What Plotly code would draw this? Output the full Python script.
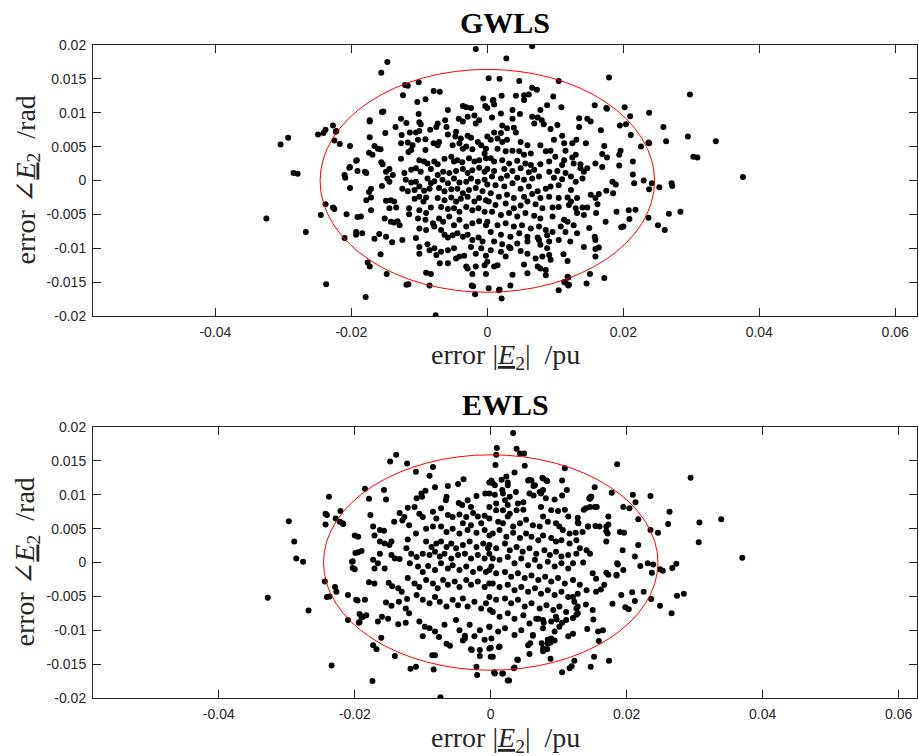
import plotly.graph_objects as go

# ---------------- data ----------------
x_tick_vals = [-0.04, -0.02, 0, 0.02, 0.04, 0.06]
x_tick_text = ["-0.04", "-0.02", "0", "0.02", "0.04", "0.06"]
y_tick_vals = [-0.02, -0.015, -0.01, -0.005, 0, 0.005, 0.01, 0.015, 0.02]
y_tick_text = ["-0.02", "-0.015", "-0.01", "-0.005", "0", "0.005", "0.01", "0.015", "0.02"]

panel_titles = ["GWLS", "EWLS"]

# confidence ellipse bounds: (x_min, x_max, y_min, y_max)
gwls_ellipse = (-0.0246, 0.0246, -0.0165, 0.0164)
ewls_ellipse = (-0.0246, 0.0246, -0.0159, 0.0159)

# (error |E2| in pu, error angle E2 in rad)
gwls_points = [
(-0.0017,0.0194),(-0.0147,0.0175),(-0.0156,0.0159),(-0.0121,0.0141),(-0.0117,0.0140),(-0.0101,0.0145),(-0.0079,0.0132),(-0.0070,0.0131),(-0.0124,0.0126),(-0.0091,0.0120),(-0.0103,0.0116),(-0.0036,0.0110),(-0.0031,0.0108),(-0.0024,0.0107),(-0.0003,0.0110),(-0.0006,0.0121),(-0.0058,0.0104),(-0.0155,0.0101),(-0.0153,0.0102),(-0.0101,0.0098),
(-0.0173,0.0089),(-0.0173,0.0087),(-0.0127,0.0091),(-0.0119,0.0085),(-0.0135,0.0079),(-0.0100,0.0086),(-0.0098,0.0083),(-0.0073,0.0084),(-0.0075,0.0079),(-0.0062,0.0089),(-0.0060,0.0079),(-0.0042,0.0091),(-0.0036,0.0087),(-0.0029,0.0094),(-0.0019,0.0096),(-0.0012,0.0089),(-0.0017,0.0084),
(-0.0227,0.0081),(-0.0238,0.0075),(-0.0241,0.0070),(-0.0223,0.0072),(-0.0150,0.0070),(-0.0126,0.0067),(-0.0114,0.0071),(-0.0105,0.0071),(-0.0100,0.0073),(-0.0084,0.0075),(-0.0173,0.0064),(-0.0225,0.0059),(-0.0217,0.0054),
(-0.0058,0.0068),(-0.0046,0.0072),(-0.0047,0.0065),(-0.0039,0.0062),(-0.0029,0.0066),(-0.0024,0.0063),(-0.0014,0.0057),(-0.0127,0.0055),(-0.0117,0.0056),(-0.0110,0.0052),(-0.0102,0.0060),(-0.0091,0.0061),(-0.0079,0.0055),(-0.0073,0.0052),(-0.0071,0.0057),
(-0.0202,0.0051),(-0.0166,0.0051),(-0.0161,0.0047),(-0.0157,0.0046),(-0.0116,0.0042),(-0.0112,0.0045),(-0.0091,0.0045),(-0.0051,0.0052),(-0.0041,0.0055),(-0.0036,0.0047),(-0.0031,0.0050),(-0.0022,0.0046),(-0.0009,0.0052),(-0.0002,0.0047),(-0.0004,0.0040),(-0.0174,0.0041),
(-0.0192,0.0030),(-0.0127,0.0032),(-0.0156,0.0027),(-0.0154,0.0024),(-0.0169,0.0038),(-0.0100,0.0030),(-0.0093,0.0028),(-0.0088,0.0025),(-0.0078,0.0028),(-0.0073,0.0024),(-0.0063,0.0032),(-0.0053,0.0035),(-0.0049,0.0028),(-0.0044,0.0030),(-0.0037,0.0027),(-0.0027,0.0033),(-0.0019,0.0028),(-0.0012,0.0030),(-0.0002,0.0033),
(-0.0203,0.0019),(-0.0191,0.0014),(-0.0178,0.0011),(-0.0149,0.0013),(-0.0144,0.0017),(-0.0139,0.0008),(-0.0122,0.0011),(-0.0112,0.0016),(-0.0105,0.0018),(-0.0098,0.0013),(-0.0083,0.0017),(-0.0073,0.0008),(-0.0065,0.0013),(-0.0056,0.0011),(-0.0046,0.0014),(-0.0036,0.0017),(-0.0029,0.0011),(-0.0022,0.0015),(-0.0012,0.0019),(-0.0004,0.0013),
(-0.0209,0.0004),(-0.0147,0.0003),(-0.0144,-0.0002),(-0.0120,0.0001),(-0.0112,-0.0003),(-0.0105,-0.0002),(-0.0088,0.0003),(-0.0083,-0.0004),(-0.0078,-0.0001),(-0.0066,0.0001),(-0.0058,-0.0004),(-0.0049,0.0003),(-0.0041,-0.0003),(-0.0031,-0.0002),(-0.0024,0.0003),(-0.0014,-0.0002),(-0.0004,0.0001),
(-0.0202,-0.0011),(-0.0171,-0.0012),(-0.0155,-0.0008),(-0.0125,-0.0012),(-0.0117,-0.0016),(-0.0107,-0.0014),(-0.0100,-0.0009),(-0.0093,-0.0015),(-0.0085,-0.0012),(-0.0071,-0.0011),(-0.0063,-0.0016),(-0.0053,-0.0013),(-0.0044,-0.0012),(-0.0036,-0.0019),(-0.0027,-0.0014),(-0.0017,-0.0011),(-0.0007,-0.0016),
(-0.0174,-0.0017),(-0.0171,-0.0025),(-0.0178,-0.0029),(-0.0149,-0.0030),(-0.0142,-0.0029),(-0.0137,-0.0031),(-0.0107,-0.0027),(-0.0100,-0.0024),(-0.0094,-0.0031),(-0.0090,-0.0025),(-0.0073,-0.0026),(-0.0063,-0.0029),(-0.0053,-0.0025),(-0.0046,-0.0031),(-0.0039,-0.0027),(-0.0029,-0.0024),(-0.0019,-0.0031),(-0.0012,-0.0026),(-0.0002,-0.0029),
(-0.0238,-0.0035),(-0.0227,-0.0040),(-0.0225,-0.0042),(-0.0245,-0.0051),(-0.0171,-0.0044),(-0.0144,-0.0041),(-0.0134,-0.0040),(-0.0115,-0.0041),(-0.0100,-0.0044),(-0.0090,-0.0048),(-0.0083,-0.0040),(-0.0068,-0.0039),(-0.0058,-0.0042),(-0.0049,-0.0041),(-0.0041,-0.0046),(-0.0031,-0.0039),(-0.0022,-0.0044),(-0.0013,-0.0041),(-0.0004,-0.0046),
(-0.0207,-0.0050),(-0.0191,-0.0054),(-0.0186,-0.0053),(-0.0151,-0.0056),(-0.0142,-0.0061),(-0.0137,-0.0062),(-0.0132,-0.0060),(-0.0129,-0.0066),(-0.0115,-0.0050),(-0.0102,-0.0056),(-0.0091,-0.0058),(-0.0080,-0.0063),(-0.0071,-0.0056),(-0.0065,-0.0061),(-0.0056,-0.0053),(-0.0049,-0.0066),(-0.0041,-0.0058),(-0.0031,-0.0068),(-0.0022,-0.0063),(-0.0012,-0.0060),(-0.0002,-0.0066),
(-0.0193,-0.0076),(-0.0193,-0.0080),(-0.0184,-0.0078),(-0.0159,-0.0079),(-0.0166,-0.0086),(-0.0149,-0.0083),(-0.0140,-0.0091),(-0.0125,-0.0088),(-0.0105,-0.0085),(-0.0100,-0.0071),(-0.0090,-0.0073),(-0.0078,-0.0068),(-0.0068,-0.0073),(-0.0063,-0.0080),(-0.0058,-0.0084),(-0.0051,-0.0081),(-0.0044,-0.0078),(-0.0036,-0.0083),(-0.0029,-0.0080),(-0.0022,-0.0088),(-0.0013,-0.0084),(-0.0007,-0.0090),
(-0.0210,-0.0085),(-0.0100,-0.0098),(-0.0100,-0.0108),(-0.0088,-0.0094),(-0.0085,-0.0103),(-0.0075,-0.0110),(-0.0078,-0.0100),(-0.0068,-0.0105),(-0.0058,-0.0103),(-0.0049,-0.0100),(-0.0041,-0.0112),(-0.0034,-0.0111),(-0.0024,-0.0098),(-0.0017,-0.0108),(-0.0009,-0.0100),(-0.0002,-0.0111),
(-0.0157,-0.0109),(-0.0176,-0.0121),(-0.0173,-0.0127),(-0.0070,-0.0122),(-0.0058,-0.0122),(-0.0046,-0.0115),(-0.0031,-0.0127),(-0.0029,-0.0130),(-0.0017,-0.0127),(-0.0004,-0.0125),(-0.0090,-0.0136),(-0.0083,-0.0138),(-0.0022,-0.0138),(-0.0002,-0.0138),(-0.0148,-0.0138),
(-0.0237,-0.0153),(-0.0119,-0.0154),(-0.0116,-0.0153),(-0.0085,-0.0155),(-0.0023,-0.0155),(-0.0179,-0.0172),(-0.0018,-0.0168),(-0.0076,-0.0199),
(-0.0304,0.0053),(-0.0293,0.0063),(-0.0249,0.0068),(-0.0222,0.0073),(-0.0285,0.0011),(-0.0279,0.0010),(-0.0325,-0.0056),(-0.0267,-0.0076),(-0.0210,0.0008),(-0.0202,0.0020),(-0.0193,0.0029),(-0.0180,0.0013),
(0.0066,0.0198),(0.0028,0.0180),(0.0002,0.0151),(0.0018,0.0150),(0.0047,0.0147),(0.0105,0.0147),(0.0179,0.0152),
(0.0066,0.0137),(0.0073,0.0134),(0.0061,0.0127),(0.0054,0.0126),(0.0054,0.0119),(0.0021,0.0125),(0.0042,0.0125),(0.0009,0.0119),(0.0010,0.0112),(0.0097,0.0124),(0.0008,0.0118),
(0.0000,0.0107),(0.0020,0.0099),(0.0037,0.0104),(0.0048,0.0098),(0.0078,0.0104),(0.0088,0.0111),(0.0109,0.0108),(0.0158,0.0111),(0.0175,0.0107),(0.0202,0.0108),(0.0238,0.0100),(0.0210,0.0095),
(0.0007,0.0093),(0.0037,0.0091),(0.0066,0.0094),(0.0074,0.0093),(0.0080,0.0089),(0.0069,0.0084),(0.0083,0.0083),(0.0103,0.0082),(0.0135,0.0092),(0.0147,0.0091),(0.0152,0.0087),(0.0135,0.0079),(0.0195,0.0081),(0.0204,0.0083),
(0.0022,0.0081),(0.0029,0.0077),(0.0039,0.0078),(0.0010,0.0071),(0.0020,0.0070),(0.0042,0.0071),(0.0093,0.0076),(0.0110,0.0066),(0.0167,0.0074),(0.0211,0.0067),
(0.0000,0.0065),(0.0005,0.0060),(0.0015,0.0062),(0.0022,0.0057),(0.0029,0.0060),(0.0049,0.0057),(0.0059,0.0052),(0.0078,0.0052),(0.0098,0.0060),(0.0113,0.0055),(0.0125,0.0055),(0.0131,0.0060),(0.0145,0.0055),(0.0172,0.0051),(0.0196,0.0044),(0.0226,0.0050),(0.0238,0.0055),
(0.0015,0.0047),(0.0027,0.0043),(0.0037,0.0044),(0.0047,0.0043),(0.0054,0.0038),(0.0064,0.0040),(0.0086,0.0043),(0.0093,0.0044),(0.0115,0.0044),(0.0100,0.0035),(0.0113,0.0030),(0.0125,0.0034),(0.0130,0.0038),(0.0169,0.0039),(0.0176,0.0034),
(0.0005,0.0033),(0.0010,0.0028),(0.0022,0.0030),(0.0032,0.0025),(0.0044,0.0029),(0.0056,0.0025),(0.0064,0.0023),(0.0078,0.0024),(0.0091,0.0028),(0.0110,0.0023),(0.0127,0.0025),(0.0137,0.0024),(0.0147,0.0018),(0.0159,0.0025),(0.0169,0.0020),(0.0194,0.0022),(0.0214,0.0028),
(0.0000,0.0017),(0.0010,0.0014),(0.0025,0.0017),(0.0037,0.0014),(0.0049,0.0018),(0.0061,0.0012),(0.0069,0.0016),(0.0091,0.0013),(0.0103,0.0014),(0.0115,0.0011),(0.0137,0.0018),(0.0142,0.0013),
(0.0007,0.0006),(0.0020,0.0003),(0.0029,0.0007),(0.0044,0.0004),(0.0054,0.0001),(0.0066,0.0003),(0.0076,0.0006),(0.0098,0.0004),(0.0110,0.0002),(0.0123,0.0006),(0.0130,-0.0002),(0.0140,0.0003),(0.0184,-0.0002),(0.0189,-0.0006),(0.0214,0.0009),(0.0230,0.0000),(0.0242,-0.0004),
(0.0000,-0.0006),(0.0012,-0.0007),(0.0025,-0.0009),(0.0037,-0.0004),(0.0049,-0.0012),(0.0061,-0.0009),(0.0074,-0.0016),(0.0086,-0.0012),(0.0093,-0.0009),(0.0105,-0.0007),(0.0123,-0.0014),(0.0152,-0.0021),(0.0164,-0.0020),(0.0175,-0.0015),(0.0185,-0.0019),(0.0216,-0.0004),(0.0238,-0.0013),
(0.0005,-0.0019),(0.0017,-0.0024),(0.0029,-0.0021),(0.0039,-0.0026),(0.0054,-0.0024),(0.0066,-0.0020),(0.0078,-0.0026),(0.0091,-0.0024),(0.0105,-0.0026),(0.0118,-0.0025),(0.0123,-0.0031),(0.0132,-0.0026),(0.0159,-0.0026),
(0.0002,-0.0031),(0.0012,-0.0036),(0.0027,-0.0034),(0.0039,-0.0041),(0.0049,-0.0037),(0.0059,-0.0031),(0.0071,-0.0035),(0.0081,-0.0041),(0.0096,-0.0040),(0.0105,-0.0039),(0.0120,-0.0036),(0.0130,-0.0041),(0.0140,-0.0040),(0.0147,-0.0040),(0.0162,-0.0035),
(0.0007,-0.0046),(0.0020,-0.0051),(0.0032,-0.0048),(0.0044,-0.0053),(0.0056,-0.0048),(0.0069,-0.0052),(0.0078,-0.0056),(0.0096,-0.0053),(0.0113,-0.0058),(0.0118,-0.0061),(0.0132,-0.0048),(0.0142,-0.0051),(0.0160,-0.0048),(0.0174,-0.0061),(0.0190,-0.0046),(0.0208,-0.0044),
(0.0000,-0.0061),(0.0015,-0.0066),(0.0027,-0.0063),(0.0039,-0.0068),(0.0051,-0.0066),(0.0064,-0.0071),(0.0076,-0.0068),(0.0086,-0.0073),(0.0096,-0.0076),(0.0108,-0.0068),(0.0127,-0.0066),(0.0150,-0.0070),
(0.0005,-0.0076),(0.0020,-0.0080),(0.0034,-0.0083),(0.0047,-0.0078),(0.0059,-0.0083),(0.0074,-0.0084),(0.0088,-0.0081),(0.0115,-0.0076),(0.0132,-0.0078),
(0.0010,-0.0090),(0.0022,-0.0094),(0.0032,-0.0098),(0.0044,-0.0093),(0.0059,-0.0090),(0.0076,-0.0088),(0.0091,-0.0090),(0.0105,-0.0088),(0.0122,-0.0090),(0.0158,-0.0083),(0.0159,-0.0088),
(0.0005,-0.0103),(0.0020,-0.0105),(0.0034,-0.0100),(0.0049,-0.0104),(0.0078,-0.0095),(0.0088,-0.0100),(0.0091,-0.0110),(0.0112,-0.0109),(0.0142,-0.0098),(0.0159,-0.0101),(0.0164,-0.0099),
(0.0027,-0.0112),(0.0059,-0.0108),(0.0071,-0.0115),(0.0081,-0.0112),(0.0093,-0.0117),(0.0118,-0.0119),(0.0159,-0.0112),
(0.0000,-0.0120),(0.0015,-0.0125),(0.0054,-0.0124),(0.0074,-0.0127),(0.0078,-0.0130),(0.0086,-0.0132),(0.0010,-0.0127),
(0.0037,-0.0139),(0.0059,-0.0137),(0.0086,-0.0140),(0.0118,-0.0142),(0.0151,-0.0138),(0.0172,-0.0144),
(0.0034,-0.0155),(0.0113,-0.0150),(0.0119,-0.0155),(0.0146,-0.0152),(0.0105,-0.0162),(0.0002,-0.0159),(0.0017,-0.0162),(0.0021,-0.0174),
(0.0298,0.0127),(0.0259,0.0079),(0.0263,0.0058),(0.0295,0.0065),(0.0336,0.0058),(0.0303,0.0035),(0.0309,0.0034),(0.0376,0.0005),(0.0253,-0.0010),(0.0271,-0.0004),(0.0272,-0.0008),
(0.0284,-0.0046),(0.0267,-0.0049),(0.0237,-0.0055),(0.0251,-0.0066),(0.0261,-0.0073),(0.0209,-0.0057),(0.0218,-0.0043),(0.0197,-0.0069),(0.0200,-0.0068),
(0.0119,-0.0143),(0.0115,-0.0151),(0.0120,-0.0154),(0.0018,-0.0161),(-0.0021,-0.0156),(0.0176,0.0106),(0.0237,0.0056),(0.0194,0.0038),
]

ewls_points = [
(-0.0139,0.0159),(-0.0148,0.0149),(-0.0123,0.0146),(-0.0110,0.0134),(-0.0085,0.0141),(-0.0090,0.0128),(-0.0040,0.0123),(-0.0063,0.0113),(-0.0048,0.0116),(-0.0185,0.0109),(-0.0157,0.0107),(-0.0082,0.0111),(-0.0002,0.0118),
(-0.0238,0.0097),(-0.0179,0.0094),(-0.0154,0.0093),(-0.0109,0.0095),(-0.0102,0.0102),(-0.0096,0.0106),(-0.0101,0.0097),(-0.0065,0.0097),(-0.0066,0.0092),(-0.0047,0.0088),(-0.0042,0.0085),(-0.0034,0.0092),(-0.0021,0.0098),(-0.0008,0.0102),(-0.0029,0.0082),
(-0.0243,0.0072),(-0.0241,0.0070),(-0.0228,0.0065),(-0.0221,0.0076),(-0.0243,0.0056),(-0.0218,0.0058),(-0.0222,0.0060),(-0.0177,0.0070),
(-0.0134,0.0073),(-0.0122,0.0081),(-0.0112,0.0082),(-0.0105,0.0072),(-0.0127,0.0067),(-0.0120,0.0055),(-0.0130,0.0062),(-0.0100,0.0067),(-0.0142,0.0060),
(-0.0085,0.0075),(-0.0073,0.0080),(-0.0080,0.0065),(-0.0063,0.0070),(-0.0056,0.0067),(-0.0046,0.0071),(-0.0036,0.0067),(-0.0026,0.0073),(-0.0019,0.0068),(-0.0009,0.0069),(-0.0041,0.0058),(-0.0029,0.0055),(-0.0014,0.0058),
(-0.0173,0.0053),(-0.0163,0.0048),(-0.0157,0.0047),(-0.0171,0.0040),(-0.0200,0.0040),(-0.0195,0.0038),
(-0.0110,0.0043),(-0.0095,0.0050),(-0.0085,0.0053),(-0.0073,0.0053),(-0.0065,0.0045),(-0.0056,0.0050),(-0.0046,0.0043),(-0.0034,0.0048),(-0.0021,0.0044),(-0.0009,0.0048),(-0.0002,0.0040),
(-0.0163,0.0031),(-0.0156,0.0028),(-0.0149,0.0026),(-0.0146,0.0031),(-0.0122,0.0034),(-0.0095,0.0031),(-0.0087,0.0023),(-0.0080,0.0028),(-0.0073,0.0031),(-0.0065,0.0023),(-0.0058,0.0028),(-0.0051,0.0021),(-0.0041,0.0026),(-0.0031,0.0031),(-0.0021,0.0023),(-0.0011,0.0028),(-0.0004,0.0021),
(-0.0199,0.0014),(-0.0190,0.0017),(-0.0163,0.0013),(-0.0146,0.0011),(-0.0141,0.0006),(-0.0134,0.0005),(-0.0124,0.0021),(-0.0117,0.0013),(-0.0109,0.0008),(-0.0100,0.0013),(-0.0090,0.0011),(-0.0082,0.0016),(-0.0075,0.0009),(-0.0068,0.0013),(-0.0058,0.0006),(-0.0048,0.0011),(-0.0038,0.0013),(-0.0029,0.0006),(-0.0019,0.0011),(-0.0009,0.0006),(-0.0002,0.0013),
(-0.0204,0.0001),(-0.0200,-0.0010),(-0.0173,0.0004),(-0.0166,-0.0001),(-0.0171,-0.0009),(-0.0156,-0.0009),(-0.0119,-0.0001),(-0.0107,-0.0006),(-0.0100,-0.0014),(-0.0092,-0.0005),(-0.0082,-0.0011),(-0.0073,-0.0001),(-0.0063,-0.0009),(-0.0056,-0.0004),(-0.0046,-0.0011),(-0.0036,-0.0006),(-0.0026,-0.0014),(-0.0016,-0.0009),(-0.0007,-0.0014),(0.0001,-0.0006),
(-0.0179,-0.0029),(-0.0171,-0.0031),(-0.0150,-0.0030),(-0.0145,-0.0035),(-0.0136,-0.0038),(-0.0131,-0.0043),(-0.0122,-0.0023),(-0.0112,-0.0031),(-0.0105,-0.0036),(-0.0095,-0.0026),(-0.0085,-0.0031),(-0.0078,-0.0038),(-0.0070,-0.0026),(-0.0063,-0.0033),(-0.0053,-0.0028),(-0.0046,-0.0036),(-0.0036,-0.0026),(-0.0029,-0.0033),(-0.0019,-0.0028),(-0.0009,-0.0036),(-0.0002,-0.0031),
(-0.0244,-0.0028),(-0.0229,-0.0036),(-0.0227,-0.0043),(-0.0241,-0.0051),(-0.0210,-0.0048),
(-0.0198,-0.0055),(-0.0185,-0.0055),(-0.0154,-0.0059),(-0.0146,-0.0064),(-0.0135,-0.0058),(-0.0123,-0.0054),(-0.0125,-0.0068),(-0.0109,-0.0048),(-0.0100,-0.0055),(-0.0090,-0.0060),(-0.0082,-0.0051),(-0.0075,-0.0058),(-0.0065,-0.0065),(-0.0056,-0.0055),(-0.0048,-0.0063),(-0.0041,-0.0053),(-0.0034,-0.0065),(-0.0024,-0.0058),(-0.0014,-0.0068),(-0.0007,-0.0060),(-0.0001,-0.0070),
(-0.0210,-0.0085),(-0.0194,-0.0089),(-0.0190,-0.0081),(-0.0183,-0.0078),(-0.0166,-0.0087),(-0.0160,-0.0080),(-0.0151,-0.0083),(-0.0136,-0.0091),(-0.0125,-0.0089),(-0.0120,-0.0075),
(-0.0105,-0.0087),(-0.0097,-0.0095),(-0.0100,-0.0109),(-0.0090,-0.0097),(-0.0082,-0.0102),(-0.0076,-0.0110),(-0.0068,-0.0092),(-0.0065,-0.0120),(-0.0060,-0.0123),
(-0.0051,-0.0085),(-0.0046,-0.0100),(-0.0038,-0.0112),(-0.0031,-0.0092),(-0.0024,-0.0109),(-0.0016,-0.0100),(-0.0009,-0.0114),(-0.0002,-0.0095),
(-0.0161,-0.0111),(-0.0173,-0.0122),(-0.0168,-0.0128),(-0.0141,-0.0138),(-0.0086,-0.0137),(-0.0082,-0.0137),(-0.0029,-0.0128),(-0.0016,-0.0138),(-0.0002,-0.0127),
(-0.0234,-0.0152),(-0.0118,-0.0157),(-0.0110,-0.0154),(-0.0084,-0.0158),(-0.0021,-0.0154),(-0.0020,-0.0166),(-0.0174,-0.0175),(-0.0074,-0.0199),
(-0.0297,0.0061),(-0.0289,0.0031),(-0.0286,0.0006),(-0.0276,0.0001),(-0.0217,0.0057),(-0.0203,0.0002),(-0.0195,0.0015),
(-0.0328,-0.0052),(-0.0268,-0.0071),(-0.0237,-0.0050),(-0.0203,-0.0008),(-0.0196,-0.0056),(-0.0193,-0.0076),(-0.0188,-0.0080),(-0.0193,-0.0088),
(0.0033,0.0191),(0.0009,0.0169),(0.0008,0.0159),(0.0007,0.0144),(0.0038,0.0168),(0.0043,0.0161),(0.0049,0.0161),(0.0050,0.0143),(0.0035,0.0133),(0.0023,0.0127),(0.0025,0.0118),(0.0017,0.0107),(0.0003,0.0117),(0.0001,0.0121),
(0.0109,0.0139),(0.0186,0.0145),(0.0063,0.0113),(0.0055,0.0121),(0.0057,0.0122),(0.0076,0.0125),(0.0083,0.0120),(0.0077,0.0107),(0.0105,0.0121),(0.0112,0.0107),(0.0153,0.0111),(0.0147,0.0097),(0.0146,0.0094),(0.0178,0.0103),
(0.0209,0.0100),(0.0213,0.0089),(0.0204,0.0080),(0.0195,0.0082),(0.0235,0.0098),(0.0294,0.0125),(0.0263,0.0075),(0.0261,0.0057),(0.0307,0.0059),(0.0306,0.0030),(0.0339,0.0064),(0.0370,0.0007),
(0.0217,0.0064),(0.0235,0.0048),(0.0246,0.0044),(0.0153,0.0082),(0.0140,0.0080),(0.0137,0.0078),(0.0173,0.0068),(0.0173,0.0056),(0.0160,0.0053),(0.0190,0.0045),(0.0196,0.0044),(0.0194,0.0018),(0.0212,0.0009),(0.0217,0.0026),
(0.0231,-0.0001),(0.0239,-0.0003),(0.0249,-0.0010),(0.0267,-0.0008),(0.0273,-0.0002),(0.0128,0.0066),(0.0129,0.0058),(0.0143,0.0053),(0.0154,0.0054),(0.0170,0.0046),(0.0186,-0.0001),
(0.0187,-0.0003),(0.0195,-0.0011),(0.0185,-0.0018),(0.0173,-0.0018),(0.0170,-0.0015),(0.0220,-0.0005),(0.0237,-0.0015),(0.0253,-0.0012),
(0.0274,-0.0049),(0.0284,-0.0046),(0.0249,-0.0064),(0.0266,-0.0075),
(0.0236,-0.0054),(0.0225,-0.0043),(0.0208,-0.0044),(0.0212,-0.0057),(0.0203,-0.0069),(0.0198,-0.0066),(0.0192,-0.0048),
(0.0179,-0.0061),(0.0167,-0.0033),(0.0162,-0.0040),(0.0155,-0.0043),(0.0150,-0.0070),(0.0151,-0.0084),(0.0158,-0.0102),(0.0165,-0.0100),(0.0142,-0.0098),(0.0159,-0.0116),(0.0152,-0.0139),(0.0174,-0.0145),(0.0147,-0.0154),
(0.0123,-0.0145),(0.0119,-0.0153),(0.0116,-0.0156),(0.0105,-0.0162),
(0.0088,-0.0142),(0.0077,-0.0131),(0.0083,-0.0128),(0.0075,-0.0119),(0.0084,-0.0114),
(0.0039,-0.0143),(0.0034,-0.0156),(0.0027,-0.0174),(0.0017,-0.0164),(0.0005,-0.0162),(0.0000,-0.0139),(0.0000,-0.0126),(0.0012,-0.0125),(-0.0016,-0.0129),(-0.0028,-0.0129),(-0.0041,-0.0115),(-0.0038,-0.0108),
(0.0057,-0.0135),(0.0058,-0.0119),(0.0062,-0.0108),(0.0070,-0.0083),(0.0078,-0.0089),(0.0088,-0.0118),(0.0094,-0.0102),(0.0097,-0.0084),(0.0105,-0.0089),(0.0114,-0.0109),(0.0121,-0.0105),(0.0121,-0.0082),(0.0126,-0.0077),(0.0128,-0.0065),(0.0140,-0.0062),
(0.0006,0.0114),(0.0016,0.0122),(0.0025,0.0114),(0.0060,0.0121),(0.0077,0.0124),(0.0082,0.0121),(0.0065,0.0114),
(-0.0002,0.0102),(0.0006,0.0100),(0.0018,0.0102),(0.0028,0.0097),(0.0037,0.0104),(0.0057,0.0102),(0.0063,0.0099),(0.0072,0.0104),(0.0074,0.0102),(0.0081,0.0095),(0.0094,0.0093),(0.0105,0.0099),(0.0145,0.0095),(0.0148,0.0097),(0.0156,0.0082),(0.0146,0.0082),
(-0.0002,0.0082),(0.0008,0.0087),(0.0021,0.0092),(0.0025,0.0085),(0.0040,0.0087),(0.0048,0.0089),(0.0008,0.0077),(0.0018,0.0077),(0.0028,0.0072),(0.0038,0.0077),(0.0048,0.0078),(0.0074,0.0082),(0.0089,0.0077),(0.0099,0.0076),(0.0109,0.0078),(0.0128,0.0059),(0.0114,0.0068),
(-0.0002,0.0065),(0.0011,0.0060),(0.0018,0.0058),(0.0025,0.0068),(0.0033,0.0053),(0.0043,0.0058),(0.0052,0.0063),(0.0062,0.0055),(0.0072,0.0053),(0.0077,0.0068),(0.0084,0.0060),(0.0096,0.0058),(0.0101,0.0053),(0.0106,0.0048),(0.0116,0.0043),(0.0125,0.0044),(0.0135,0.0045),(0.0143,0.0053),(0.0170,0.0053),(0.0172,0.0043),(0.0170,0.0031),
(0.0003,0.0043),(0.0013,0.0048),(0.0023,0.0038),(0.0033,0.0044),(0.0043,0.0036),(0.0052,0.0043),(0.0060,0.0038),(0.0070,0.0033),(0.0077,0.0040),(0.0089,0.0036),(0.0096,0.0031),(0.0104,0.0033),(0.0116,0.0028),(0.0126,0.0033),(0.0131,0.0021),(0.0141,0.0018),(0.0146,0.0013),(0.0126,0.0013),(0.0121,-0.0001),
(-0.0002,0.0026),(0.0008,0.0021),(0.0021,0.0028),(0.0028,0.0018),(0.0038,0.0023),(0.0047,0.0016),(0.0057,0.0021),(0.0067,0.0013),(0.0079,0.0018),(0.0087,0.0011),(0.0096,0.0016),(0.0104,0.0009),(0.0114,0.0011),
(0.0003,0.0006),(0.0013,0.0004),(0.0025,0.0008),(0.0035,-0.0001),(0.0045,0.0006),(0.0055,-0.0004),(0.0065,0.0004),(0.0072,-0.0006),(0.0084,0.0001),(0.0094,-0.0006),(0.0104,-0.0001),(0.0114,-0.0009),(0.0136,0.0000),(0.0150,-0.0016),(0.0155,-0.0024),(0.0185,-0.0019),
(-0.0002,-0.0011),(0.0008,-0.0016),(0.0021,-0.0014),(0.0030,-0.0021),(0.0040,-0.0016),(0.0050,-0.0023),(0.0060,-0.0019),(0.0070,-0.0026),(0.0080,-0.0021),(0.0089,-0.0028),(0.0099,-0.0023),(0.0109,-0.0031),(0.0121,-0.0026),(0.0131,-0.0033),(0.0141,-0.0041),(0.0128,-0.0046),(0.0121,-0.0051),
(0.0003,-0.0031),(0.0013,-0.0036),(0.0025,-0.0033),(0.0035,-0.0041),(0.0045,-0.0036),(0.0055,-0.0043),(0.0065,-0.0038),(0.0074,-0.0046),(0.0084,-0.0041),(0.0094,-0.0048),(0.0104,-0.0043),(0.0114,-0.0051),(0.0123,-0.0058),
(-0.0002,-0.0051),(0.0008,-0.0055),(0.0021,-0.0053),(0.0030,-0.0060),(0.0040,-0.0055),(0.0050,-0.0065),(0.0060,-0.0060),(0.0072,-0.0068),(0.0082,-0.0063),(0.0092,-0.0070),(0.0101,-0.0065),(0.0111,-0.0073),(0.0126,-0.0068),(0.0128,-0.0075),
(0.0003,-0.0073),(0.0013,-0.0080),(0.0025,-0.0075),(0.0035,-0.0083),(0.0048,-0.0078),(0.0057,-0.0090),(0.0067,-0.0083),(0.0077,-0.0085),(0.0089,-0.0087),(0.0096,-0.0080),(0.0101,-0.0095),(0.0111,-0.0085),
(-0.0002,-0.0095),(0.0011,-0.0102),(0.0021,-0.0097),(0.0035,-0.0107),(0.0045,-0.0100),(0.0062,-0.0107),(0.0077,-0.0097),(0.0089,-0.0112),(0.0094,-0.0115),(0.0084,-0.0120),(0.0077,-0.0127),(0.0055,-0.0122),(0.0040,-0.0144),
(0.0001,-0.0112),(0.0013,-0.0124),(0.0003,-0.0139),(0.0035,-0.0155),(0.0018,-0.0164),(0.0006,-0.0164),(0.0025,-0.0174),
]

gwls_mag_err = [p[0] for p in gwls_points]
gwls_ang_err = [p[1] for p in gwls_points]
ewls_mag_err = [p[0] for p in ewls_points]
ewls_ang_err = [p[1] for p in ewls_points]

# ---------------- figure ----------------
AX_COLOR = "#262626"
TICK_FONT = dict(family="Liberation Sans, Arial, sans-serif", size=14, color=AX_COLOR)
SERIF = "Liberation Serif, DejaVu Serif, serif"

fig = go.Figure()
fig.add_trace(go.Scatter(x=gwls_mag_err, y=gwls_ang_err, mode="markers",
                         marker=dict(color="black", size=6, line=dict(width=0)),
                         xaxis="x", yaxis="y", showlegend=False, hoverinfo="skip"))
fig.add_trace(go.Scatter(x=ewls_mag_err, y=ewls_ang_err, mode="markers",
                         marker=dict(color="black", size=6, line=dict(width=0)),
                         xaxis="x2", yaxis="y2", showlegend=False, hoverinfo="skip"))

for (xr, yr, ell) in [("x", "y", gwls_ellipse), ("x2", "y2", ewls_ellipse)]:
    fig.add_shape(type="circle", xref=xr, yref=yr,
                  x0=ell[0], x1=ell[1], y0=ell[2], y1=ell[3],
                  line=dict(color="#ff0000", width=1), layer="above")

def xaxis_style(rng, anchor):
    return dict(range=rng, tickvals=x_tick_vals, ticktext=x_tick_text,
                showgrid=False, zeroline=False, showline=True, mirror="ticks",
                linecolor=AX_COLOR, linewidth=1, ticks="inside", ticklen=8,
                tickcolor=AX_COLOR, tickwidth=1, tickfont=TICK_FONT,
                ticklabelstandoff=3, anchor=anchor, fixedrange=True)

def yaxis_style(domain, anchor):
    return dict(range=[-0.02, 0.02], domain=domain, tickvals=y_tick_vals, ticktext=y_tick_text,
                showgrid=False, zeroline=False, showline=True, mirror="ticks",
                linecolor=AX_COLOR, linewidth=1, ticks="inside", ticklen=8,
                tickcolor=AX_COLOR, tickwidth=1, tickfont=TICK_FONT,
                ticklabelstandoff=3, anchor=anchor, fixedrange=True)

fig.update_layout(
    width=919, height=756,
    margin=dict(l=93, r=2, t=45, b=58),
    paper_bgcolor="white", plot_bgcolor="white",
    xaxis=xaxis_style([-0.0580, 0.0632], "y"),
    yaxis=yaxis_style([0.585, 1.0], "x"),
    xaxis2=xaxis_style([-0.0585, 0.0627], "y2"),
    yaxis2=yaxis_style([0.0, 0.415], "x2"),
)

U_E = '<span style="text-decoration:underline"><i>E</i></span><sub>2</sub>'
x_label = "error |" + U_E + "|\u2002/pu"
y_label = "error \u2220" + U_E + "\u2002/rad"

annotations = []
for i, (xr, yr) in enumerate([("x", "y"), ("x2", "y2")]):
    annotations.append(dict(text="<b>" + panel_titles[i] + "</b>", xref=xr + " domain", yref=yr + " domain",
                            x=0.5, y=1, yshift=23, xanchor="center", yanchor="middle", showarrow=False,
                            font=dict(family=SERIF, size=30, color="black")))
    annotations.append(dict(text=x_label, xref=xr + " domain", yref=yr + " domain",
                            x=0.5, y=0, yshift=-41, xanchor="center", yanchor="middle", showarrow=False,
                            font=dict(family=SERIF, size=28, color=AX_COLOR)))
    annotations.append(dict(text=y_label, xref=xr + " domain", yref=yr + " domain",
                            x=0, y=0.5, xshift=-66, xanchor="center", yanchor="middle", showarrow=False,
                            textangle=-90, font=dict(family=SERIF, size=28, color=AX_COLOR)))
fig.update_layout(annotations=annotations)

fig.write_html("out.html")
